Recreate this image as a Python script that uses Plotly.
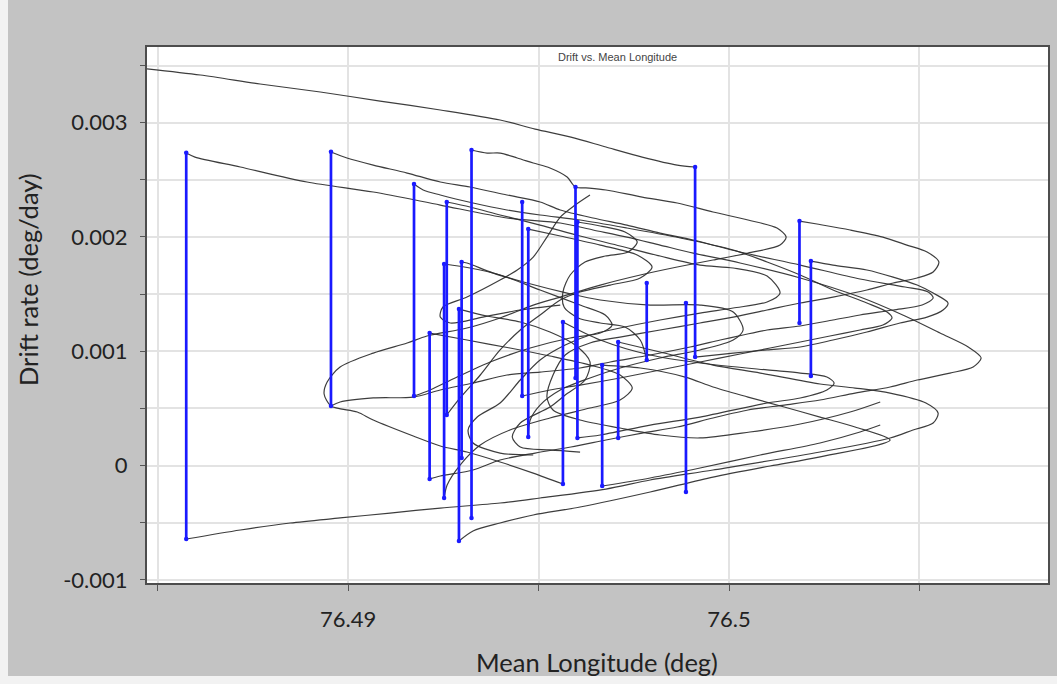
import plotly.graph_objects as go

# ---------------- data ----------------
# Blue manoeuvre segments: mean longitude (deg), drift at top / bottom (deg/day)
seg_lon = [76.48575, 76.48955, 76.49173, 76.49214, 76.49252, 76.49259, 76.49291, 76.49298, 76.49324,
           76.49457, 76.49473, 76.49564, 76.49597, 76.49602, 76.49667, 76.49709, 76.49784, 76.49887,
           76.49911, 76.50185, 76.50215]
seg_top = [0.002737, 0.002746, 0.002463, 0.001159, 0.001763, 0.002306, 0.001369, 0.001781, 0.002761,
           0.002306, 0.002069, 0.001256, 0.002437, 0.002131, 0.000879, 0.001081, 0.001597, 0.001422,
           0.002612, 0.002139, 0.001789]
seg_bot = [-0.000643, 0.000521, 0.000608, -0.000118, -0.000284, 0.000442, -0.000661, 0.000066, -0.000459,
           0.000608, 0.000249, -0.000162, 0.000766, 0.000241, -0.000179, 0.000241, 0.000923, -0.000232,
           0.000949, 0.001247, 0.000783]

# Black drift trajectories (longitude, drift rate)
track_01_lon = [76.48454, 76.48612, 76.48769, 76.48927, 76.49084, 76.49242, 76.49399, 76.49491, 76.49585,
                76.49677, 76.49772, 76.49864, 76.49911]
track_01_drift = [0.003478, 0.003417, 0.003338, 0.003268, 0.003189, 0.003111, 0.003023, 0.002944, 0.002874,
                  0.002787, 0.002699, 0.002629, 0.002612]

track_02_lon = [76.48575, 76.48598, 76.48717, 76.48892, 76.49066, 76.49242, 76.49417, 76.49557, 76.49643,
                76.49732, 76.49819, 76.49906, 76.50029, 76.50187, 76.50344, 76.50462, 76.50554, 76.50628,
                76.50662, 76.50641, 76.50580, 76.50494, 76.50423, 76.50331, 76.50239, 76.50145, 76.50050,
                76.49958, 76.49864, 76.49772, 76.49677, 76.49585, 76.49491, 76.49399, 76.49328, 76.49242,
                76.49214]
track_02_drift = [0.002734, 0.002699, 0.002612, 0.002481, 0.002393, 0.002279, 0.002166, 0.002122, 0.002061,
                  0.001999, 0.001929, 0.001859, 0.001772, 0.001641, 0.001474, 0.001308, 0.001159, 0.001037,
                  0.000941, 0.000862, 0.000809, 0.000748, 0.000687, 0.000634, 0.000573, 0.000529, 0.000486,
                  0.000416, 0.000337, 0.000284, 0.000223, 0.000162, 0.000109, 0.000048, -0.000039, -0.000092,
                  -0.000118]

track_03_lon = [76.49709, 76.49819, 76.49958, 76.50082, 76.50239, 76.50331, 76.50423, 76.50517, 76.50549,
                76.50536, 76.50483, 76.50423, 76.50239, 76.49958, 76.49793, 76.49677, 76.49504, 76.49399,
                76.49242, 76.49110, 76.48979, 76.48848, 76.48717, 76.48575]
track_03_drift = [0.001081, 0.000993, 0.000879, 0.000809, 0.000713, 0.000678, 0.000634, 0.000547, 0.000459,
                  0.000372, 0.000311, 0.000241, 0.000118, -0.000039, -0.000127, -0.000206, -0.000284, -0.000328,
                  -0.000372, -0.000416, -0.000459, -0.000503, -0.000564, -0.000643]

track_04_lon = [76.49667, 76.49767, 76.49885, 76.49958, 76.50050, 76.50145, 76.50239, 76.50331, 76.50423,
                76.50236, 76.50108, 76.49958, 76.49793, 76.49609, 76.49486, 76.49399, 76.49328, 76.49291]
track_04_drift = [0.000879, 0.000853, 0.000774, 0.000687, 0.000599, 0.000512, 0.000424, 0.000337, 0.000223,
                  0.000074, -0.000004, -0.000101, -0.000232, -0.000363, -0.000433, -0.000503, -0.000573, -0.000661]

track_05_lon = [76.48955, 76.48997, 76.49066, 76.49155, 76.49242, 76.49320, 76.49417, 76.49504, 76.49557,
                76.49643, 76.49732, 76.49819, 76.49906, 76.50029, 76.50187, 76.50344, 76.50462, 76.50523,
                76.50536, 76.50507, 76.50431, 76.50344, 76.50273, 76.50187, 76.50100, 76.50037, 76.49977,
                76.49898, 76.49793, 76.49688, 76.49609, 76.49504, 76.49417, 76.49328, 76.49242, 76.49171,
                76.49066, 76.48979, 76.48955]
track_05_drift = [0.002743, 0.002691, 0.002629, 0.002559, 0.002481, 0.002437, 0.002367, 0.002306, 0.002236,
                  0.002166, 0.002104, 0.002034, 0.001973, 0.001868, 0.001754, 0.001632, 0.001562, 0.001518,
                  0.001466, 0.001404, 0.001361, 0.001317, 0.001273, 0.001221, 0.001186, 0.001142, 0.001098,
                  0.001037, 0.000967, 0.000906, 0.000853, 0.000818, 0.000792, 0.000722, 0.000661, 0.000599,
                  0.000591, 0.000556, 0.000521]

track_06_lon = [76.49324, 76.49365, 76.49399, 76.49444, 76.49486, 76.49530, 76.49575, 76.49597, 76.49633,
                76.49677, 76.49772, 76.49864, 76.49958, 76.50050, 76.50126, 76.50150, 76.50134, 76.50050,
                76.49958, 76.49864, 76.49767, 76.49662, 76.49557, 76.49486, 76.49399, 76.49312, 76.49207,
                76.49155, 76.49066, 76.48979, 76.48945, 76.48937, 76.48955, 76.49024, 76.49066, 76.49171,
                76.49242, 76.49312, 76.49399, 76.49486, 76.49564]
track_06_drift = [0.002761, 0.002734, 0.002734, 0.002691, 0.002647, 0.002603, 0.002524, 0.002437, 0.002428,
                  0.002411, 0.002349, 0.002297, 0.002218, 0.002148, 0.002078, 0.001999, 0.001929, 0.001859,
                  0.001798, 0.001737, 0.001667, 0.001579, 0.001474, 0.001404, 0.001291, 0.001203, 0.001133,
                  0.001072, 0.000984, 0.000862, 0.000731, 0.000626, 0.000521, 0.000468, 0.000398, 0.000258,
                  0.000171, 0.000118, 0.000031, -0.000066, -0.000162]

track_07_lon = [76.49173, 76.49197, 76.49242, 76.49328, 76.49417, 76.49504, 76.49609, 76.49732, 76.49872,
                76.50011, 76.50100, 76.50187, 76.50273, 76.50362, 76.50415, 76.50428, 76.50404, 76.50344,
                76.50265, 76.50187, 76.50108, 76.50029, 76.49924, 76.49819, 76.49714, 76.49609, 76.49530,
                76.49457]
track_07_drift = [0.002463, 0.002411, 0.002367, 0.002297, 0.002236, 0.002192, 0.002148, 0.002078, 0.001991,
                  0.001886, 0.001781, 0.001667, 0.001536, 0.001422, 0.001343, 0.001291, 0.001229, 0.001186,
                  0.001133, 0.001081, 0.001028, 0.000976, 0.000906, 0.000836, 0.000766, 0.000704, 0.000661,
                  0.000608]

track_08_lon = [76.50185, 76.50231, 76.50318, 76.50404, 76.50467, 76.50520, 76.50551, 76.50536, 76.50494,
                76.50431, 76.50362, 76.50273, 76.50187, 76.50100, 76.50011, 76.49924, 76.49819, 76.49714,
                76.49635, 76.49570, 76.49538, 76.49522, 76.49538, 76.49609, 76.49714, 76.49819, 76.49924,
                76.50055, 76.50187, 76.50318, 76.50397]
track_08_drift = [0.002139, 0.002113, 0.002061, 0.001999, 0.001929, 0.001868, 0.001781, 0.001693, 0.001641,
                  0.001597, 0.001536, 0.001474, 0.001422, 0.001361, 0.001299, 0.001247, 0.001186, 0.001124,
                  0.001072, 0.000967, 0.000792, 0.000599, 0.000486, 0.000398, 0.000328, 0.000267, 0.000241,
                  0.000293, 0.000363, 0.000468, 0.000556]

track_09_lon = [76.50215, 76.50273, 76.50362, 76.50431, 76.50494, 76.50536, 76.50575, 76.50562, 76.50520,
                76.50449, 76.50362, 76.50273, 76.50187, 76.50100, 76.50011, 76.49911]
track_09_drift = [0.001789, 0.001754, 0.001711, 0.001649, 0.001579, 0.001509, 0.001422, 0.001361, 0.001299,
                  0.001247, 0.001168, 0.001098, 0.001037, 0.001011, 0.000984, 0.000949]

track_10_lon = [76.49259, 76.49320, 76.49399, 76.49504, 76.49609, 76.49714, 76.49819, 76.49924, 76.50011,
                76.50100, 76.50134, 76.50100, 76.50011, 76.49924, 76.49819, 76.49714, 76.49635, 76.49570,
                76.49504, 76.49452, 76.49399, 76.49339, 76.49315, 76.49328, 76.49399, 76.49486]
track_10_drift = [0.002306, 0.002262, 0.002192, 0.002104, 0.002008, 0.001921, 0.001833, 0.001754, 0.001728,
                  0.001658, 0.001509, 0.001431, 0.001378, 0.001334, 0.001273, 0.001203, 0.001142, 0.001054,
                  0.000923, 0.000748, 0.000547, 0.000424, 0.000311, 0.000197, 0.000109, 0.000092]

track_11_lon = [76.49298, 76.49312, 76.49381, 76.49470, 76.49575, 76.49662, 76.49793, 76.49924, 76.50011,
                76.50037, 76.50011, 76.49924, 76.49819, 76.49714, 76.49635, 76.49557, 76.49504, 76.49478,
                76.49473]
track_11_drift = [0.001781, 0.001772, 0.001684, 0.001597, 0.001509, 0.001448, 0.001404, 0.001404, 0.001343,
                  0.001186, 0.001098, 0.001011, 0.000941, 0.000853, 0.000766, 0.000661, 0.000529, 0.000398,
                  0.000249]

track_12_lon = [76.49564, 76.49662, 76.49793, 76.49924, 76.50100, 76.50187, 76.50257, 76.50276, 76.50257,
                76.50187, 76.50100, 76.49924, 76.49793, 76.49662, 76.49602]
track_12_drift = [0.001256, 0.001098, 0.000967, 0.000897, 0.000836, 0.000809, 0.000774, 0.000722, 0.000661,
                  0.000591, 0.000547, 0.000424, 0.000354, 0.000267, 0.000241]

track_13_lon = [76.49635, 76.49596, 76.49557, 76.49522, 76.49486, 76.49444, 76.49399, 76.49312, 76.49249,
                76.49242, 76.49268, 76.49354, 76.49452, 76.49557]
track_13_drift = [0.002367, 0.002279, 0.002174, 0.001999, 0.001824, 0.001711, 0.001623, 0.001474, 0.001387,
                  0.001299, 0.001247, 0.001299, 0.001361, 0.001404]

track_14_lon = [76.49473, 76.49557, 76.49662, 76.49759, 76.49798, 76.49767, 76.49688, 76.49609, 76.49557,
                76.49504, 76.49452, 76.49399, 76.49347, 76.49294, 76.49259]
track_14_drift = [0.002069, 0.002008, 0.001929, 0.001842, 0.001737, 0.001641, 0.001579, 0.001518, 0.001448,
                  0.001317, 0.001186, 0.001011, 0.000792, 0.000591, 0.000442]

track_15_lon = [76.49602, 76.49662, 76.49727, 76.49759, 76.49735, 76.49675, 76.49622, 76.49583, 76.49564,
                76.49567, 76.49604, 76.49662, 76.49727, 76.49767, 76.49784]
track_15_drift = [0.002131, 0.002096, 0.002043, 0.001956, 0.001868, 0.001833, 0.001781, 0.001667, 0.001518,
                  0.001387, 0.001291, 0.001247, 0.001212, 0.001098, 0.000923]

track_16_lon = [76.49214, 76.49312, 76.49425, 76.49530, 76.49635, 76.49714, 76.49746, 76.49714, 76.49635,
                76.49530, 76.49425, 76.49347, 76.49294, 76.49260, 76.49252]
track_16_drift = [0.001159, 0.001098, 0.001028, 0.000958, 0.000879, 0.000792, 0.000678, 0.000573, 0.000503,
                  0.000416, 0.000311, 0.000179, 0.000004, -0.000171, -0.000284]

track_17_lon = [76.49291, 76.49365, 76.49452, 76.49530, 76.49596, 76.49635, 76.49622, 76.49570, 76.49530,
                76.49452, 76.49431, 76.49452, 76.49530, 76.49609]
track_17_drift = [0.001369, 0.001308, 0.001256, 0.001168, 0.001054, 0.000906, 0.000748, 0.000617, 0.000512,
                  0.000372, 0.000249, 0.000162, 0.000136, 0.000118]

track_18_lon = [76.49667, 76.49793, 76.49924, 76.50082, 76.50239, 76.50344, 76.50397]
track_18_drift = [-0.000179, -0.000109, -0.000022, 0.000092, 0.000197, 0.000293, 0.000354]

track_19_lon = [76.49252, 76.49320, 76.49399, 76.49504, 76.49609, 76.49675, 76.49693, 76.49662, 76.49583,
                76.49478, 76.49373, 76.49281, 76.49215, 76.49173]
track_19_drift = [0.001763, 0.001728, 0.001667, 0.001536, 0.001404, 0.001317, 0.001229, 0.001159, 0.001116,
                  0.001028, 0.000906, 0.000766, 0.000661, 0.000608]

x_tick_vals = [76.485, 76.49, 76.495, 76.5, 76.505]
x_tick_text = ["", "76.49", "", "76.5", ""]
y_tick_vals = [-0.001, -0.0005, 0.0, 0.0005, 0.001, 0.0015, 0.002, 0.0025, 0.003, 0.0035]
y_tick_text = ["-0.001", "", "0", "", "0.001", "", "0.002", "", "0.003", ""]

tracks = [
    (track_01_lon, track_01_drift), (track_02_lon, track_02_drift), (track_03_lon, track_03_drift),
    (track_04_lon, track_04_drift), (track_05_lon, track_05_drift), (track_06_lon, track_06_drift),
    (track_07_lon, track_07_drift), (track_08_lon, track_08_drift), (track_09_lon, track_09_drift),
    (track_10_lon, track_10_drift), (track_11_lon, track_11_drift), (track_12_lon, track_12_drift),
    (track_13_lon, track_13_drift), (track_14_lon, track_14_drift), (track_15_lon, track_15_drift),
    (track_16_lon, track_16_drift), (track_17_lon, track_17_drift), (track_18_lon, track_18_drift),
    (track_19_lon, track_19_drift),
]

# ---------------- figure ----------------
fig = go.Figure()

for lon, dr in tracks:
    assert len(lon) == len(dr)
    fig.add_trace(go.Scatter(
        x=lon, y=dr, mode="lines",
        line=dict(color="rgba(45,45,45,0.92)", width=1.2, shape="spline", smoothing=0.8),
        hoverinfo="skip", showlegend=False))

bx, by = [], []
for lon, t, b in zip(seg_lon, seg_top, seg_bot):
    bx += [lon, lon, None]
    by += [b, t, None]
fig.add_trace(go.Scatter(
    x=bx, y=by, mode="lines+markers",
    line=dict(color="#1a1aff", width=2.7),
    marker=dict(size=4.5, color="#1a1aff"),
    hoverinfo="skip", showlegend=False))

PL, PR, PT, PB = 147, 1048, 47, 583   # plot box in pixels
W, H = 1057, 684
pw, ph = PR - PL, PB - PT

def px_x(p):
    return (p - PL) / pw

def px_y(p):
    return (PB - p) / ph

fig.update_layout(
    width=W, height=H,
    margin=dict(l=PL, r=W - PR, t=PT, b=H - PB, autoexpand=False),
    paper_bgcolor="#c3c3c3", plot_bgcolor="#ffffff",
    showlegend=False,
    font=dict(family="Lato, 'Open Sans', sans-serif", color="#222222"),
    shapes=[
        dict(type="rect", xref="paper", yref="paper", x0=px_x(0), x1=px_x(8), y0=px_y(H), y1=px_y(0),
             fillcolor="#f2f2f2", line=dict(width=0), layer="above"),
        dict(type="rect", xref="paper", yref="paper", x0=px_x(0), x1=px_x(W), y0=px_y(H), y1=px_y(676),
             fillcolor="#f2f2f2", line=dict(width=0), layer="above"),
    ],
    annotations=[
        dict(text="Drift vs. Mean Longitude", xref="paper", yref="paper", x=px_x(617), y=px_y(57),
             xanchor="center", yanchor="middle", showarrow=False,
             font=dict(family="Liberation Sans, Arial, sans-serif", size=11, color="#444444")),
        dict(text="Mean Longitude (deg)", xref="paper", yref="paper", x=px_x(597), y=px_y(662),
             xanchor="center", yanchor="middle", showarrow=False,
             font=dict(size=25.5, color="#222222")),
        dict(text="Drift rate (deg/day)", xref="paper", yref="paper", x=px_x(28), y=px_y(280),
             xanchor="center", yanchor="middle", showarrow=False, textangle=-90,
             font=dict(size=25.5, color="#222222")),
    ],
)

fig.update_xaxes(
    range=[76.48472, 76.508375], tickmode="array", tickvals=x_tick_vals, ticktext=x_tick_text,
    showgrid=True, gridcolor="#e3e3e3", gridwidth=1.5, zeroline=False,
    showline=True, linecolor="#4d4d4d", linewidth=2, mirror=True,
    ticks="outside", ticklen=6, tickcolor="#555555", tickwidth=1,
    tickfont=dict(size=22, color="#222222"), ticklabelstandoff=10,
)
fig.update_yaxes(
    range=[-0.001028, 0.003662], tickmode="array", tickvals=y_tick_vals, ticktext=y_tick_text,
    showgrid=True, gridcolor="#e3e3e3", gridwidth=1.5, zeroline=False,
    showline=True, linecolor="#4d4d4d", linewidth=2, mirror=True,
    ticks="outside", ticklen=5, tickcolor="#555555", tickwidth=1,
    tickfont=dict(size=22, color="#222222"), ticklabelstandoff=8,
)

fig.write_html("out.html")
